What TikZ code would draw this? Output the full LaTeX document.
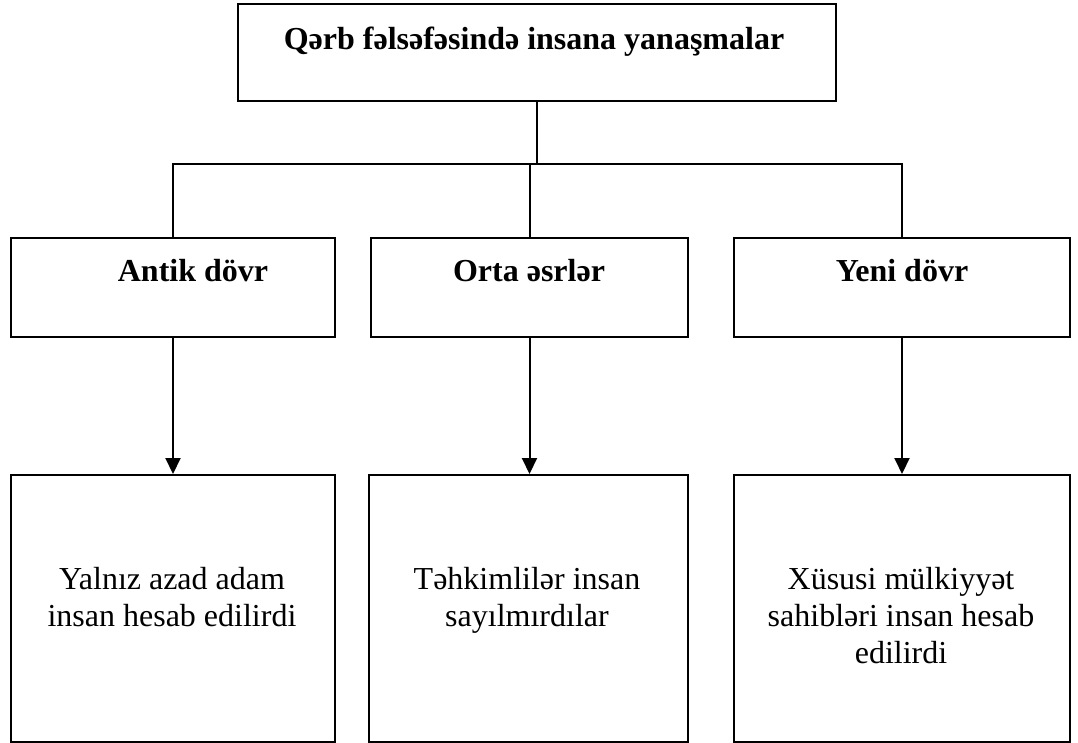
\documentclass[tikz,border=0pt]{standalone}
\usepackage{fontspec}
\setmainfont{Liberation Serif}
\usetikzlibrary{arrows.meta}
\begin{document}
\begin{tikzpicture}[x=1pt,y=-1pt,
  box/.style={draw,line width=2pt,inner sep=0pt,anchor=north west},
  conn/.style={line width=2pt},
  arr/.style={conn,-{Triangle[length=16pt,width=15pt]}},
  ttl/.style={font=\fontsize{32}{38}\selectfont\bfseries,inner sep=0pt,anchor=base},
  sub/.style={font=\fontsize{32}{38}\selectfont\bfseries,inner sep=0pt,anchor=base},
  body/.style={font=\fontsize{32}{37}\selectfont,align=center,inner sep=0pt,anchor=north}]
\useasboundingbox (0,0) rectangle (1078,742);
% boxes
\node[box,minimum width=598pt,minimum height=97pt] (top) at (237,3) {};
\node[box,minimum width=324pt,minimum height=99pt] (A) at (10,237) {};
\node[box,minimum width=317pt,minimum height=99pt] (O) at (370,237) {};
\node[box,minimum width=336pt,minimum height=99pt] (Y) at (733,237) {};
\node[box,minimum width=324pt,minimum height=267pt] (A2) at (10,474) {};
\node[box,minimum width=319pt,minimum height=267pt] (O2) at (368,474) {};
\node[box,minimum width=336pt,minimum height=267pt] (Y2) at (733,474) {};
% texts
\node[ttl] (ttitle) at (534,49) {Qərb fəlsəfəsində insana yanaşmalar};
\node[sub] (tA) at (193,281) {Antik dövr};
\node[sub] (tO) at (529,281) {Orta əsrlər};
\node[sub] (tY) at (902,281) {Yeni dövr};
\node[body] (tA2) at (172,567) {Yalnız azad adam\\insan hesab edilirdi};
\node[body] (tO2) at (527,567) {Təhkimlilər insan\\sayılmırdılar};
\node[body] (tY2) at (901,567) {Xüsusi mülkiyyət\\sahibləri insan hesab\\edilirdi};
% connectors
\coordinate (j) at (536,164);
\draw[conn] (top.south) -- (top.south |- j);
\draw[conn] (A.north) |- (j) -| (Y.north);
\draw[conn] (O.north) -- (O.north |- j);
\draw[arr] (A.south) -- (A2.north);
\draw[arr] (O.south) -- (O.south |- O2.north);
\draw[arr] (Y.south) -- (Y.south |- Y2.north);
\end{tikzpicture}
\end{document}
